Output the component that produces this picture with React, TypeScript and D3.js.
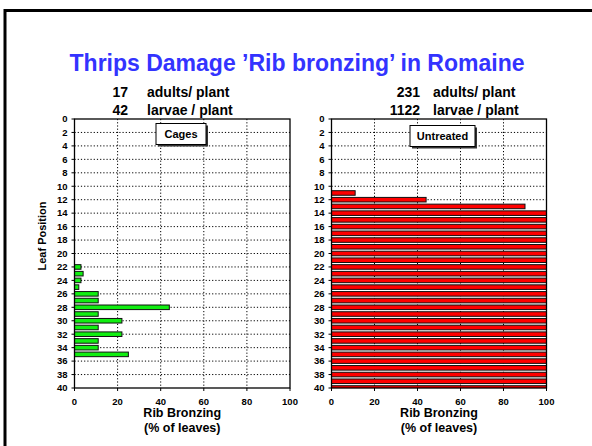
import React from "react";
import * as d3 from "d3";

const leafTicks = [0, 2, 4, 6, 8, 10, 12, 14, 16, 18, 20, 22, 24, 26, 28, 30, 32, 34, 36, 38, 40];
const pctTicks = [0, 20, 40, 60, 80, 100];

const cagesLeaves = [22, 23, 24, 25, 26, 27, 28, 29, 30, 31, 32, 33, 34, 35];
const cagesValues = [3, 4, 3, 2, 11, 11, 44, 11, 22, 11, 22, 11, 11, 25];

const untreatedLeaves = [11, 12, 13, 14, 15, 16, 17, 18, 19, 20, 21, 22, 23, 24, 25, 26, 27, 28, 29, 30, 31, 32, 33, 34, 35, 36, 37, 38, 39, 40];
const untreatedValues = [11, 44, 90, 100, 100, 100, 100, 100, 100, 100, 100, 100, 100, 100, 100, 100, 100, 100, 100, 100, 100, 100, 100, 100, 100, 100, 100, 100, 100, 100];

const FONT = "'Liberation Sans', Arial, Helvetica, sans-serif";

type PanelProps = {
  id: string;
  x0: number;
  x1: number;
  leaves: number[];
  values: number[];
  fill: string;
  label: string;
  boxX: number;
  boxW: number;
  boxY: number;
  countA: string;
  countB: string;
  numRight: number;
  textLeft: number;
};

const Y0 = 119;
const Y1 = 388;

function Panel(p: PanelProps) {
  const x = d3.scaleLinear().domain([0, 100]).range([p.x0, p.x1]);
  const y = d3.scaleLinear().domain([0, 40]).range([Y0, Y1]);
  const band = y(1) - y(0);
  const bh = band * 0.68;
  const cx = (p.x0 + p.x1) / 2;
  return (
    <g>
      <defs>
        <clipPath id={p.id}>
          <rect x={p.x0} y={Y0} width={p.x1 - p.x0} height={Y1 - Y0} />
        </clipPath>
      </defs>
      <text x={p.numRight} y={97} textAnchor="end" fontSize={14} fontWeight="bold" fontFamily={FONT}>{p.countA}</text>
      <text x={p.textLeft} y={97} fontSize={14} fontWeight="bold" fontFamily={FONT}>adults/ plant</text>
      <text x={p.numRight} y={114.5} textAnchor="end" fontSize={14} fontWeight="bold" fontFamily={FONT}>{p.countB}</text>
      <text x={p.textLeft} y={114.5} fontSize={14} fontWeight="bold" fontFamily={FONT}>larvae / plant</text>
      {leafTicks.filter((t) => t > 0 && t < 40).map((t) => (
        <line key={"h" + t} x1={p.x0} x2={p.x1} y1={y(t)} y2={y(t)} stroke="#000" strokeWidth={1} strokeDasharray="1.2,2" />
      ))}
      {pctTicks.filter((t) => t > 0 && t < 100).map((t) => (
        <line key={"v" + t} x1={x(t)} x2={x(t)} y1={Y0} y2={Y1} stroke="#000" strokeWidth={1} strokeDasharray="1.2,2" />
      ))}
      <g clipPath={`url(#${p.id})`}>
        {p.leaves.map((l, i) => (
          <rect key={l} x={x(0)} y={y(l) - bh / 2} width={x(p.values[i]) - x(0)} height={bh} fill={p.fill} stroke="#111" strokeWidth={1} />
        ))}
      </g>
      <rect x={p.x0} y={Y0} width={p.x1 - p.x0} height={Y1 - Y0} fill="none" stroke="#000" strokeWidth={1.3} />
      {leafTicks.map((t) => (
        <g key={"yt" + t}>
          <line x1={p.x0 - 3} x2={p.x0} y1={y(t)} y2={y(t)} stroke="#000" />
          <text x={p.x0 - 7} y={y(t)} dy="0.35em" textAnchor="end" fontSize={9.5} fontWeight="bold" fontFamily={FONT}>{t}</text>
        </g>
      ))}
      {pctTicks.map((t) => (
        <g key={"xt" + t}>
          <line x1={x(t)} x2={x(t)} y1={Y1} y2={Y1 + 3} stroke="#000" />
          <text x={x(t)} y={405} textAnchor="middle" fontSize={9.5} fontWeight="bold" fontFamily={FONT}>{t}</text>
        </g>
      ))}
      <text x={cx} y={416.5} textAnchor="middle" fontSize={12.5} fontWeight="bold" fontFamily={FONT}>Rib Bronzing</text>
      <text x={cx} y={431.5} textAnchor="middle" fontSize={12.5} fontWeight="bold" fontFamily={FONT}>(% of leaves)</text>
      <rect x={p.boxX + 2} y={p.boxY + 2} width={p.boxW} height={21} fill="#333" />
      <rect x={p.boxX} y={p.boxY} width={p.boxW} height={21} fill="#fff" stroke="#000" strokeWidth={1} />
      <text x={p.boxX + p.boxW / 2} y={p.boxY + 10.5} dy="0.36em" textAnchor="middle" fontSize={11} fontWeight="bold" fontFamily={FONT}>{p.label}</text>
    </g>
  );
}

export default function App() {
  return (
    <svg width={592} height={446} style={{ position: "absolute", left: 0, top: 0, background: "#fff" }}>
      <rect x={0} y={0} width={592} height={446} fill="#fff" />
      <rect x={5} y={10.5} width={620} height={460} fill="none" stroke="#000" strokeWidth={3} />
      <text x={297} y={71} textAnchor="middle" fontSize={23} fontWeight="bold" fill="#3333ff" fontFamily={FONT}>
        Thrips Damage ’Rib bronzing’ in Romaine
      </text>
      <text transform="translate(42,236) rotate(-90)" textAnchor="middle" dy="0.36em" fontSize={11} fontWeight="bold" fontFamily={FONT}>Leaf Position</text>
      <Panel id="clipL" x0={74.5} x1={290} leaves={cagesLeaves} values={cagesValues} fill="#11ee11" label="Cages"
        boxX={156} boxW={50} boxY={123.5} countA="17" countB="42" numRight={128} textLeft={147} />
      <Panel id="clipR" x0={331.5} x1={546.5} leaves={untreatedLeaves} values={untreatedValues} fill="#ff0000" label="Untreated"
        boxX={410} boxW={65} boxY={125.5} countA="231" countB="1122" numRight={420} textLeft={433} />
    </svg>
  );
}
